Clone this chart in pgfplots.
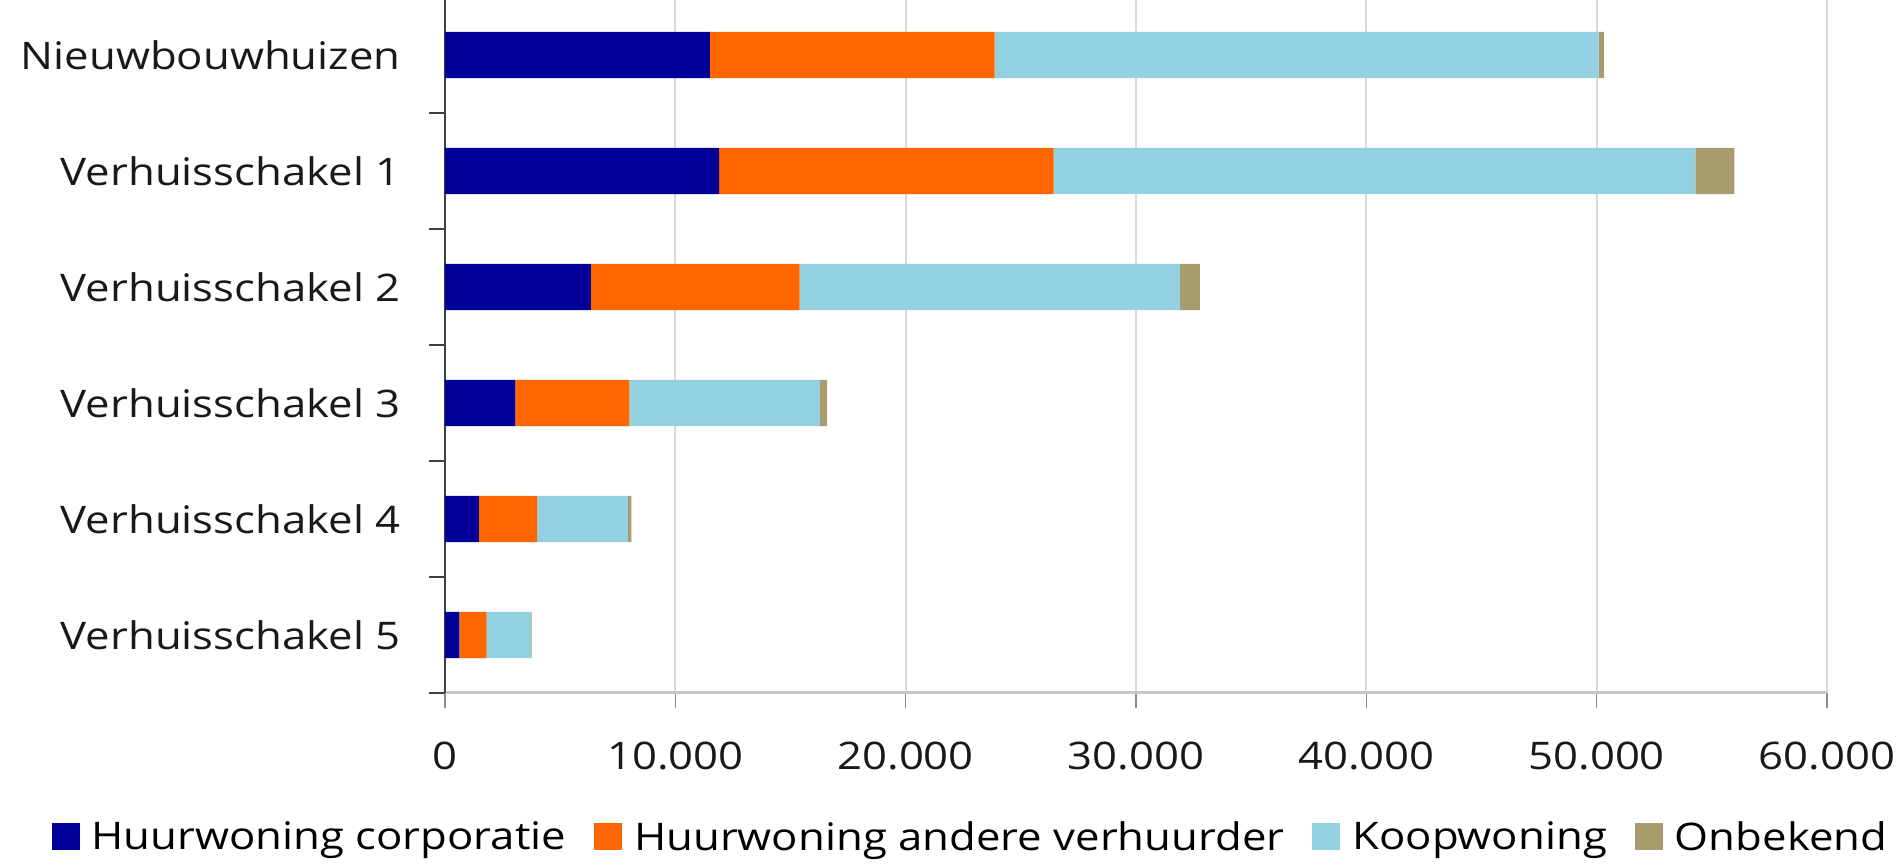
\documentclass[border=0pt]{standalone}
\usepackage{pgfplots}
\pgfplotsset{compat=1.18}
\usepackage{fontspec}
\setmainfont{Open Sans}[FakeStretch=1.15]
\definecolor{cCorp}{RGB}{0,0,153}
\definecolor{cAnd}{RGB}{255,102,0}
\definecolor{cKoop}{RGB}{146,208,226}
\definecolor{cOnb}{RGB}{168,156,110}
\begin{document}
\begin{tikzpicture}
\useasboundingbox (-222.5pt,-86pt) rectangle (729.5pt,346.5pt);
\begin{axis}[
 at={(0,0)}, anchor=south west,
 width=691pt, height=348pt, scale only axis,
 xbar stacked, bar width=0.4,
 xmin=0, xmax=60000, ymin=-0.5, ymax=5.5,
 enlargelimits=false,
 scaled x ticks=false,
 axis lines*=left,
 x axis line style={-, draw=black!22, line width=1.5pt},
 y axis line style={-, draw=black!75, line width=1pt},
 xtick={0,10000,...,60000},
 xticklabels={0,10.000,20.000,30.000,40.000,50.000,60.000},
 ytick={0,...,5},
 yticklabels={Verhuisschakel 5,Verhuisschakel 4,Verhuisschakel 3,Verhuisschakel 2,Verhuisschakel 1,Nieuwbouwhuizen},
 ytick style={draw=none},
 xtick style={draw=black!45, line width=0.6pt},
 tick align=outside,
 major tick length=7.5pt,
 extra y ticks={-0.5,0.5,1.5,2.5,3.5,4.5,5.5},
 extra y tick labels={},
 extra y tick style={ytick style={draw=black!75,line width=1pt}, major tick length=8pt},
 xmajorgrids, grid style={draw=black!15, line width=1pt},
 tick label style={font=\fontsize{19}{23}\selectfont, text=black!90},
 xticklabel style={inner sep=0pt, anchor=north, yshift=-17pt},
 yticklabel style={inner sep=0pt, anchor=east, xshift=-14.5pt},
 legend columns=4,
 legend style={at={(0.3795,-0.207)}, anchor=center, draw=none, fill=none,
   font=\fontsize{19}{23}\selectfont, nodes={inner sep=0pt},
   /tikz/every odd column/.append style={column sep=6pt},
   /tikz/every even column/.append style={column sep=14pt}},
 legend image code/.code={\fill[#1] (0pt,-6.5pt) rectangle (14pt,7pt);},
]
\addplot[fill=cCorp, draw=none] coordinates {(11500,5) (11900,4) (6330,3) (3060,2) (1470,1) (620,0)};
\addplot[fill=cAnd, draw=none] coordinates {(12360,5) (14520,4) (9070,3) (4940,2) (2530,1) (1190,0)};
\addplot[fill=cKoop, draw=none] coordinates {(26230,5) (27860,4) (16500,3) (8270,2) (3940,1) (1920,0)};
\addplot[fill=cOnb, draw=none] coordinates {(230,5) (1700,4) (870,3) (320,2) (150,1) (30,0)};
\legend{Huurwoning corporatie,Huurwoning andere verhuurder,Koopwoning,Onbekend}
\end{axis}
\end{tikzpicture}
\end{document}
